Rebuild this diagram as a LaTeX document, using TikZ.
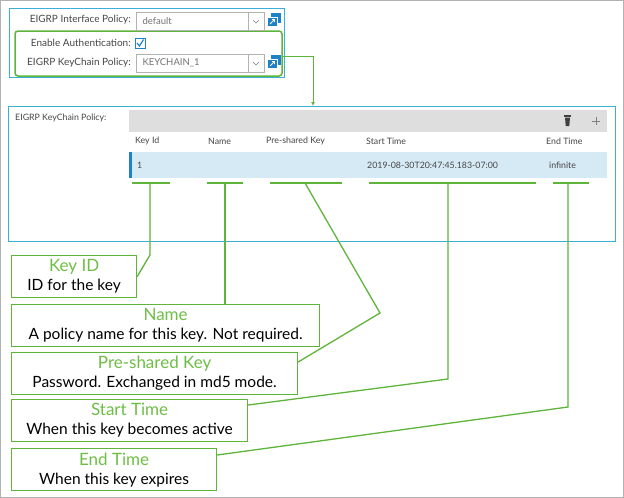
\documentclass[tikz,border=0pt]{standalone}
\usepackage{fontspec}
\setmainfont{Lato}
\usepackage{xcolor}
\usetikzlibrary{arrows.meta}
\definecolor{frameCyan}{RGB}{60,175,215}
\definecolor{calloutGreen}{RGB}{95,180,60}
\definecolor{titleGreen}{RGB}{110,190,70}
\definecolor{uiText}{RGB}{70,70,70}
\definecolor{uiGrey}{RGB}{222,222,222}
\definecolor{rowBlue}{RGB}{214,234,246}
\definecolor{iconBlue}{RGB}{30,130,200}
\tikzset{
    uilabel/.style={anchor=east, font=\fontsize{10}{11}\selectfont, text=uiText, inner sep=0pt},
    uifield/.style={draw=black!30, fill=white},
    colhead/.style={anchor=west, font=\fontsize{8.8}{10}\selectfont, text=uiText, inner sep=0pt},
    callout/.style={draw=calloutGreen, line width=1.2pt, fill=white, anchor=north west, align=center,
        inner sep=0pt, minimum height=42pt, font=\fontsize{15.5}{19}\selectfont},
    leader/.style={draw=calloutGreen, line width=1.3pt},
}
\newcommand{\calltitle}[1]{{\fontsize{17}{18}\selectfont\color{titleGreen}#1}}
\begin{document}
\begin{tikzpicture}[x=1pt, y=-1pt]
    % page frame
    \draw[black!30, fill=white] (0.5,0.5) rectangle (623.5,497.5);
    \useasboundingbox (0,0) rectangle (624,498);

    % top form
    \draw[frameCyan, line width=1pt] (9,8) rectangle (284,77);
    \draw[calloutGreen, line width=1.5pt, rounded corners=3pt] (15,31) rectangle (282,76);
    \node[uilabel] (ifLabel) at (131,20) {EIGRP Interface Policy:};
    \node[uilabel] (authLabel) at (131,43) {Enable Authentication:};
    \node[uilabel] (kcLabel) at (131,63) {EIGRP KeyChain Policy:};
    \foreach \yy/\txt in {12/default, 54/KEYCHAIN\_1} {
        \draw[uifield] (136,\yy) rectangle (264,\yy+18);
        \draw[black!30] (248,\yy) -- (248,\yy+18);
        \draw[black!50] (253,\yy+8) -- (256,\yy+11) -- (259,\yy+8);
        \node[anchor=west, font=\fontsize{9.5}{10}\selectfont, text=black!55] at (139,\yy+9) {\txt};
        \fill[iconBlue] (271,\yy+1) rectangle (281,\yy+11);
        \fill[iconBlue, draw=white, line width=1pt] (267.5,\yy+5) rectangle (277,\yy+14.5);
        \draw[white, line width=0.9pt] (270,\yy+12) -- (274.5,\yy+7.5) (272,\yy+7.5) -- (274.5,\yy+7.5) -- (274.5,\yy+10);
    }
    \draw[iconBlue, fill=white] (135,38) rectangle (145,48);
    \draw[iconBlue, line width=1.2pt] (137,43) -- (139.5,46) -- (143.5,39.5);

    % key chain table
    \draw[frameCyan, line width=1pt] (8,106) rectangle (615,241);
    \node[anchor=west, font=\fontsize{8.8}{10}\selectfont, text=uiText, inner sep=0pt] (tblLabel) at (15,118) {EIGRP KeyChain Policy:};
    \fill[uiGrey] (129,110) rectangle (607,132);
    \fill[black!75] (565,117.5) -- (570,117.5) -- (569.3,126) -- (565.7,126) -- cycle;
    \fill[black!75] (564,115) rectangle (571,116.5);
    \draw[black!50] (592,121) -- (600,121) (596,117) -- (596,125);
    \node[colhead] (hKey) at (135,141) {Key Id};
    \node[colhead] (hName) at (208,141) {Name};
    \node[colhead] (hPsk) at (266,141) {Pre-shared Key};
    \node[colhead] (hStart) at (366,141) {Start Time};
    \node[colhead] (hEnd) at (546,141) {End Time};
    \fill[rowBlue] (129,152) rectangle (607,178);
    \fill[iconBlue] (129,152) rectangle (131.5,178);
    \node[colhead] at (137,165) {1};
    \node[colhead] at (367,165) {2019-08-30T20:47:45.183-07:00};
    \node[colhead] at (549,165) {infinite};

    % link from form to table
    \draw[calloutGreen, line width=1pt, -{Latex[length=4pt,width=4pt]}] (282,56) -- (313,56) -- (313,106);

    % underlines
    \foreach \name/\xa/\xb in {uKey/132/170, uName/207/243, uPsk/270/342, uStart/369/536, uEnd/553/589} {
        \draw[leader] (\xa,183) -- (\xb,183);
    }
    \coordinate (uKey) at (150,183);
    \coordinate (uName) at (225,183);
    \coordinate (uPsk) at (305,183);
    \coordinate (uStart) at (448,183);
    \coordinate (uEnd) at (568,183);

    % callouts
    \node[callout, minimum width=125pt] (cKey) at (11,255) {\calltitle{Key ID}\\ID for the key};
    \node[callout, minimum width=308pt] (cName) at (11,304) {\calltitle{Name}\\A policy name for this key. Not required.};
    \node[callout, minimum width=286pt] (cPsk) at (11,352) {\calltitle{Pre-shared Key}\\Password. Exchanged in md5 mode.};
    \node[callout, minimum width=236pt] (cStart) at (11,399) {\calltitle{Start Time}\\When this key becomes active};
    \node[callout, minimum width=205pt] (cEnd) at (11,448) {\calltitle{End Time}\\When this key expires};

    % leaders
    \draw[leader] (uKey) -- (150,255) -- (cKey.east);
    \draw[leader] (uName) -- (cName.north -| uName);
    \draw[leader] (uPsk) -- (380,313) -- ([yshift=-10pt]cPsk.north east);
    \draw[leader] (uStart) -- (448,379) -- ([yshift=-6pt]cStart.north east);
    \draw[leader] (uEnd) -- (568,407) -- ([yshift=-7pt]cEnd.north east);
\end{tikzpicture}
\end{document}
